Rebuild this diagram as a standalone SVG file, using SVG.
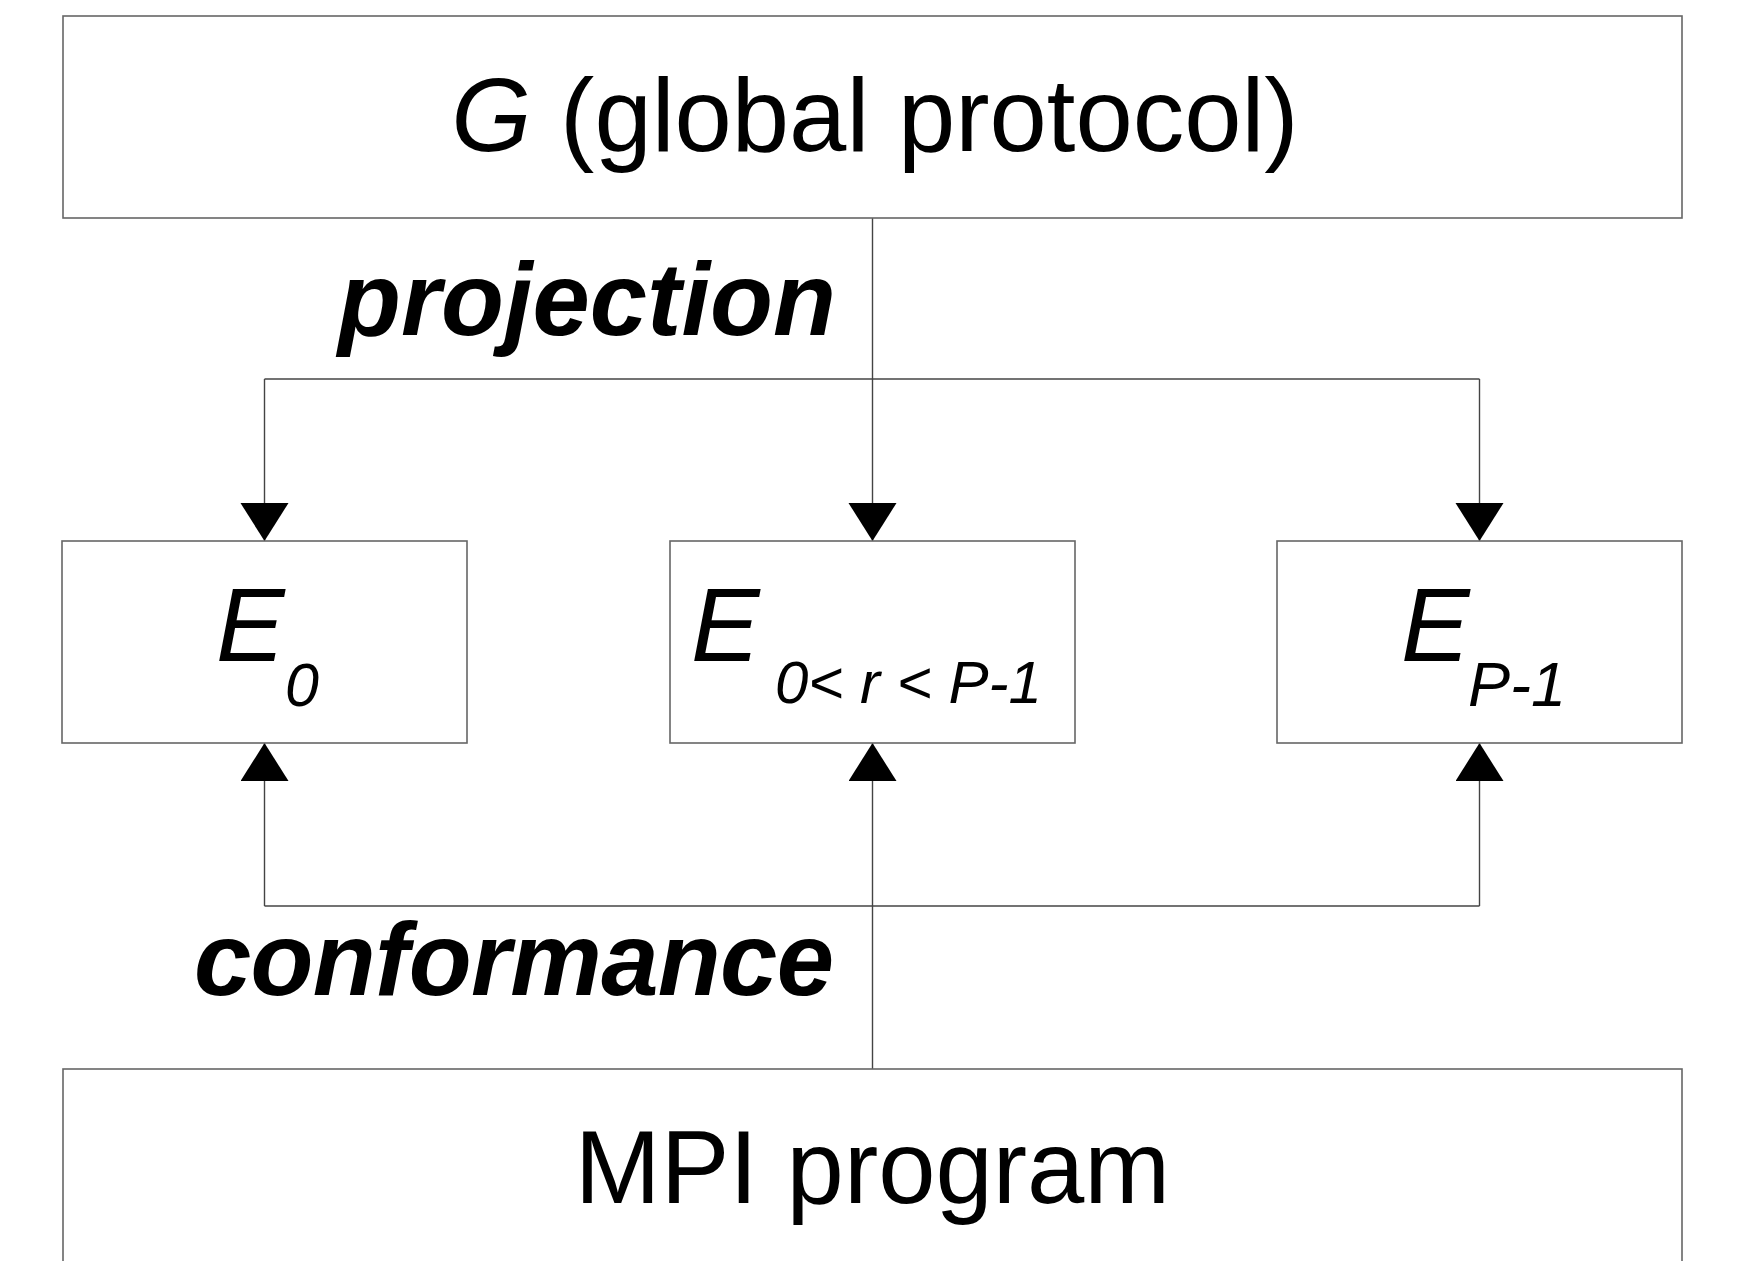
<svg xmlns="http://www.w3.org/2000/svg" width="1739" height="1261" viewBox="0 0 1739 1261">
<style>
.box{fill:#fff;stroke:#666;stroke-width:1.6}
.con{fill:none;stroke:#444;stroke-width:1.4}
.t{font-family:"Liberation Sans",Arial,sans-serif;fill:#000}
.lbl{font-family:"Liberation Sans",Arial,sans-serif;font-weight:bold;font-style:italic;font-size:103px;fill:#000}
</style>
<defs>
<marker id="ah" markerUnits="userSpaceOnUse" markerWidth="40" markerHeight="50" refX="38" refY="24" orient="auto" viewBox="0 0 40 50">
<path d="M0,0 L38,24 L0,48 z" fill="#000"/>
</marker>
</defs>
<rect width="1739" height="1261" fill="#fff"/>
<g id="connectors">
<polyline class="con" points="264.5,379 1479.5,379"/>
<line class="con" x1="872.5" y1="217" x2="872.5" y2="541" marker-end="url(#ah)"/>
<line class="con" x1="264.5" y1="379" x2="264.5" y2="541" marker-end="url(#ah)"/>
<line class="con" x1="1479.5" y1="379" x2="1479.5" y2="541" marker-end="url(#ah)"/>
<polyline class="con" points="264.5,906 1479.5,906"/>
<line class="con" x1="872.5" y1="1069" x2="872.5" y2="743" marker-end="url(#ah)"/>
<line class="con" x1="264.5" y1="906" x2="264.5" y2="743" marker-end="url(#ah)"/>
<line class="con" x1="1479.5" y1="906" x2="1479.5" y2="743" marker-end="url(#ah)"/>
<text class="lbl" x="338" y="335">projection</text>
<text class="lbl" x="194" y="995" textLength="640">conformance</text>
</g>
<g id="node-G">
<rect class="box" x="63" y="16" width="1619" height="202"/>
<text class="t" x="875" y="151" font-size="103" text-anchor="middle"><tspan font-style="italic">G</tspan> (global protocol)</text>
</g>
<g id="node-E0">
<rect class="box" x="62" y="541" width="405" height="202"/>
<text class="t" font-style="italic"><tspan x="216" y="661" font-size="103">E</tspan><tspan x="285" y="706" font-size="61">0</tspan></text>
</g>
<g id="node-Er">
<rect class="box" x="670" y="541" width="405" height="202"/>
<text class="t" font-style="italic"><tspan x="691" y="661" font-size="103">E</tspan><tspan x="775" y="703" font-size="60">0&lt; r &lt; P-1</tspan></text>
</g>
<g id="node-EP">
<rect class="box" x="1277" y="541" width="405" height="202"/>
<text class="t" font-style="italic"><tspan x="1401" y="661" font-size="103">E</tspan><tspan x="1468" y="706" font-size="63">P-1</tspan></text>
</g>
<g id="node-MPI">
<rect class="box" x="63" y="1069" width="1619" height="220"/>
<text class="t" x="872.5" y="1203" font-size="103" text-anchor="middle">MPI program</text>
</g>
</svg>
